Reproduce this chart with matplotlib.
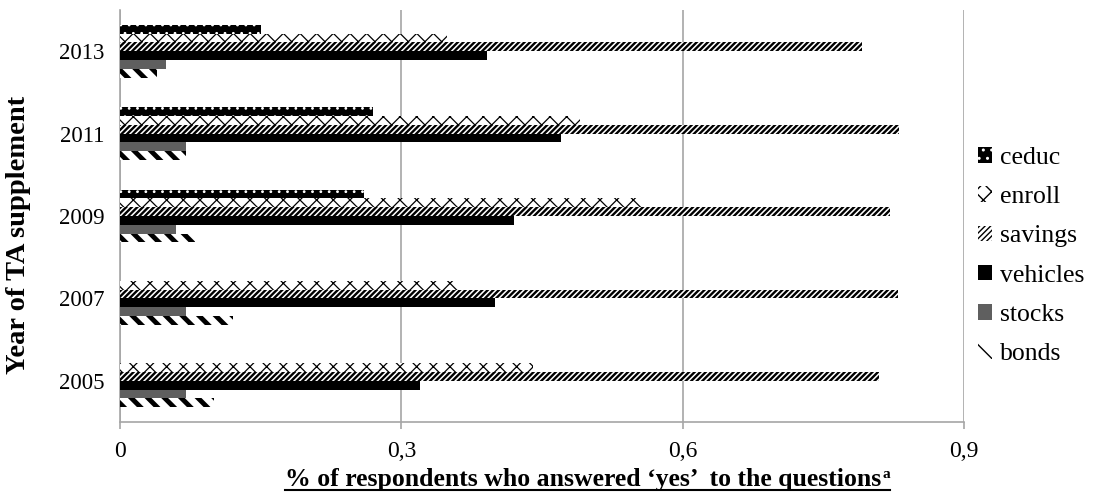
import numpy as np
import matplotlib
matplotlib.use("Agg")
import matplotlib.pyplot as plt
from matplotlib.patches import Patch
from matplotlib.lines import Line2D

plt.rcParams["font.family"] = ["Liberation Serif", "DejaVu Serif"]

years = ["2005", "2007", "2009", "2011", "2013"]
series = ["ceduc", "enroll", "savings", "vehicles", "stocks", "bonds"]

ceduc = [np.nan, np.nan, 0.26, 0.27, 0.15]
enroll = [0.44, 0.36, 0.557, 0.49, 0.349]
savings = [0.809, 0.83, 0.821, 0.831, 0.791]
vehicles = [0.32, 0.40, 0.42, 0.47, 0.391]
stocks = [0.07, 0.07, 0.06, 0.07, 0.049]
bonds = [0.10, 0.12, 0.08, 0.07, 0.039]

values = [ceduc, enroll, savings, vehicles, stocks, bonds]

# (face, hatch colour, hatch, hatch linewidth)
styles = {
    "ceduc": ("black", "white", "..", 0.8),
    "enroll": ("white", "black", "xx", 0.9),
    "savings": ("white", "black", "//////", 1.7),
    "vehicles": ("black", "black", None, 1.0),
    "stocks": ("#5f5f5f", "#5f5f5f", None, 1.0),
    "bonds": ("white", "black", "\\\\", 3.5),
}

fig = plt.figure(figsize=(10.93, 4.96), dpi=100)
ax = fig.add_axes([120 / 1093, 74 / 496, (964 - 120) / 1093, 412 / 496])

h = 0.107
y = np.arange(len(years))
handles = []
for k, (name, vals) in enumerate(zip(series, values)):
    face, hcol, hatch, hlw = styles[name]
    off = (2.5 - k) * h
    bars = ax.barh(y + off, vals, height=h, color=face, edgecolor=hcol,
                   hatch=hatch, linewidth=0, zorder=3)
    for b in bars:
        if hasattr(b, "set_hatch_linewidth"):
            b.set_hatch_linewidth(hlw)
    p = Patch(facecolor=face, edgecolor=hcol, hatch=hatch, linewidth=0)
    if hasattr(p, "set_hatch_linewidth"):
        p.set_hatch_linewidth(hlw)
    handles.append(p)

ax.set_xlim(0, 0.9)
ax.set_ylim(-0.5, len(years) - 0.5)
ax.set_xticks([0, 0.3, 0.6, 0.9])
ax.set_xticklabels(["0", "0,3", "0,6", "0,9"], fontsize=17)
ax.set_yticks(y)
ax.set_yticklabels(years, fontsize=16.5)
ax.xaxis.grid(True, color="#a6a6a6", linewidth=1.2, zorder=0)
ax.set_axisbelow(True)

for s in ["top", "right"]:
    ax.spines[s].set_visible(False)
for s in ["left", "bottom"]:
    ax.spines[s].set_color("#a6a6a6")
    ax.spines[s].set_linewidth(1.2)
ax.tick_params(axis="x", length=5, width=1.2, color="#a6a6a6", pad=9)
ax.tick_params(axis="y", length=0, pad=11)

ax.set_ylabel("Year of TA supplement", fontsize=20.5, fontweight="bold")
ax.yaxis.set_label_coords(-0.106, 0.454)

xl = fig.text(583 / 1093, 10 / 496, "% of respondents who answered \u2018yes\u2019  to the questions",
              ha="center", va="baseline", fontsize=18.5, fontweight="bold")

leg = fig.legend(handles, series, loc="upper left",
                 bbox_to_anchor=(978 / 1093, 1 - 147 / 496),
                 frameon=False, fontsize=18.5, handlelength=0.55, handleheight=0.55,
                 handletextpad=0.3, labelspacing=0.67, borderaxespad=0, borderpad=0)

fig.canvas.draw()
bb = xl.get_window_extent().transformed(fig.transFigure.inverted())
sup = fig.text(bb.x1 + 1 / 1093, 10 / 496 + 8 / 496, "a", fontsize=11, fontweight="bold",
               ha="left", va="baseline")
fig.canvas.draw()
sb = sup.get_window_extent().transformed(fig.transFigure.inverted())
uy = 10 / 496 - 4 / 496
fig.add_artist(Line2D([bb.x0, sb.x1], [uy, uy], transform=fig.transFigure,
                      color="black", linewidth=1.5))

fig.savefig("out.png", dpi=100)
